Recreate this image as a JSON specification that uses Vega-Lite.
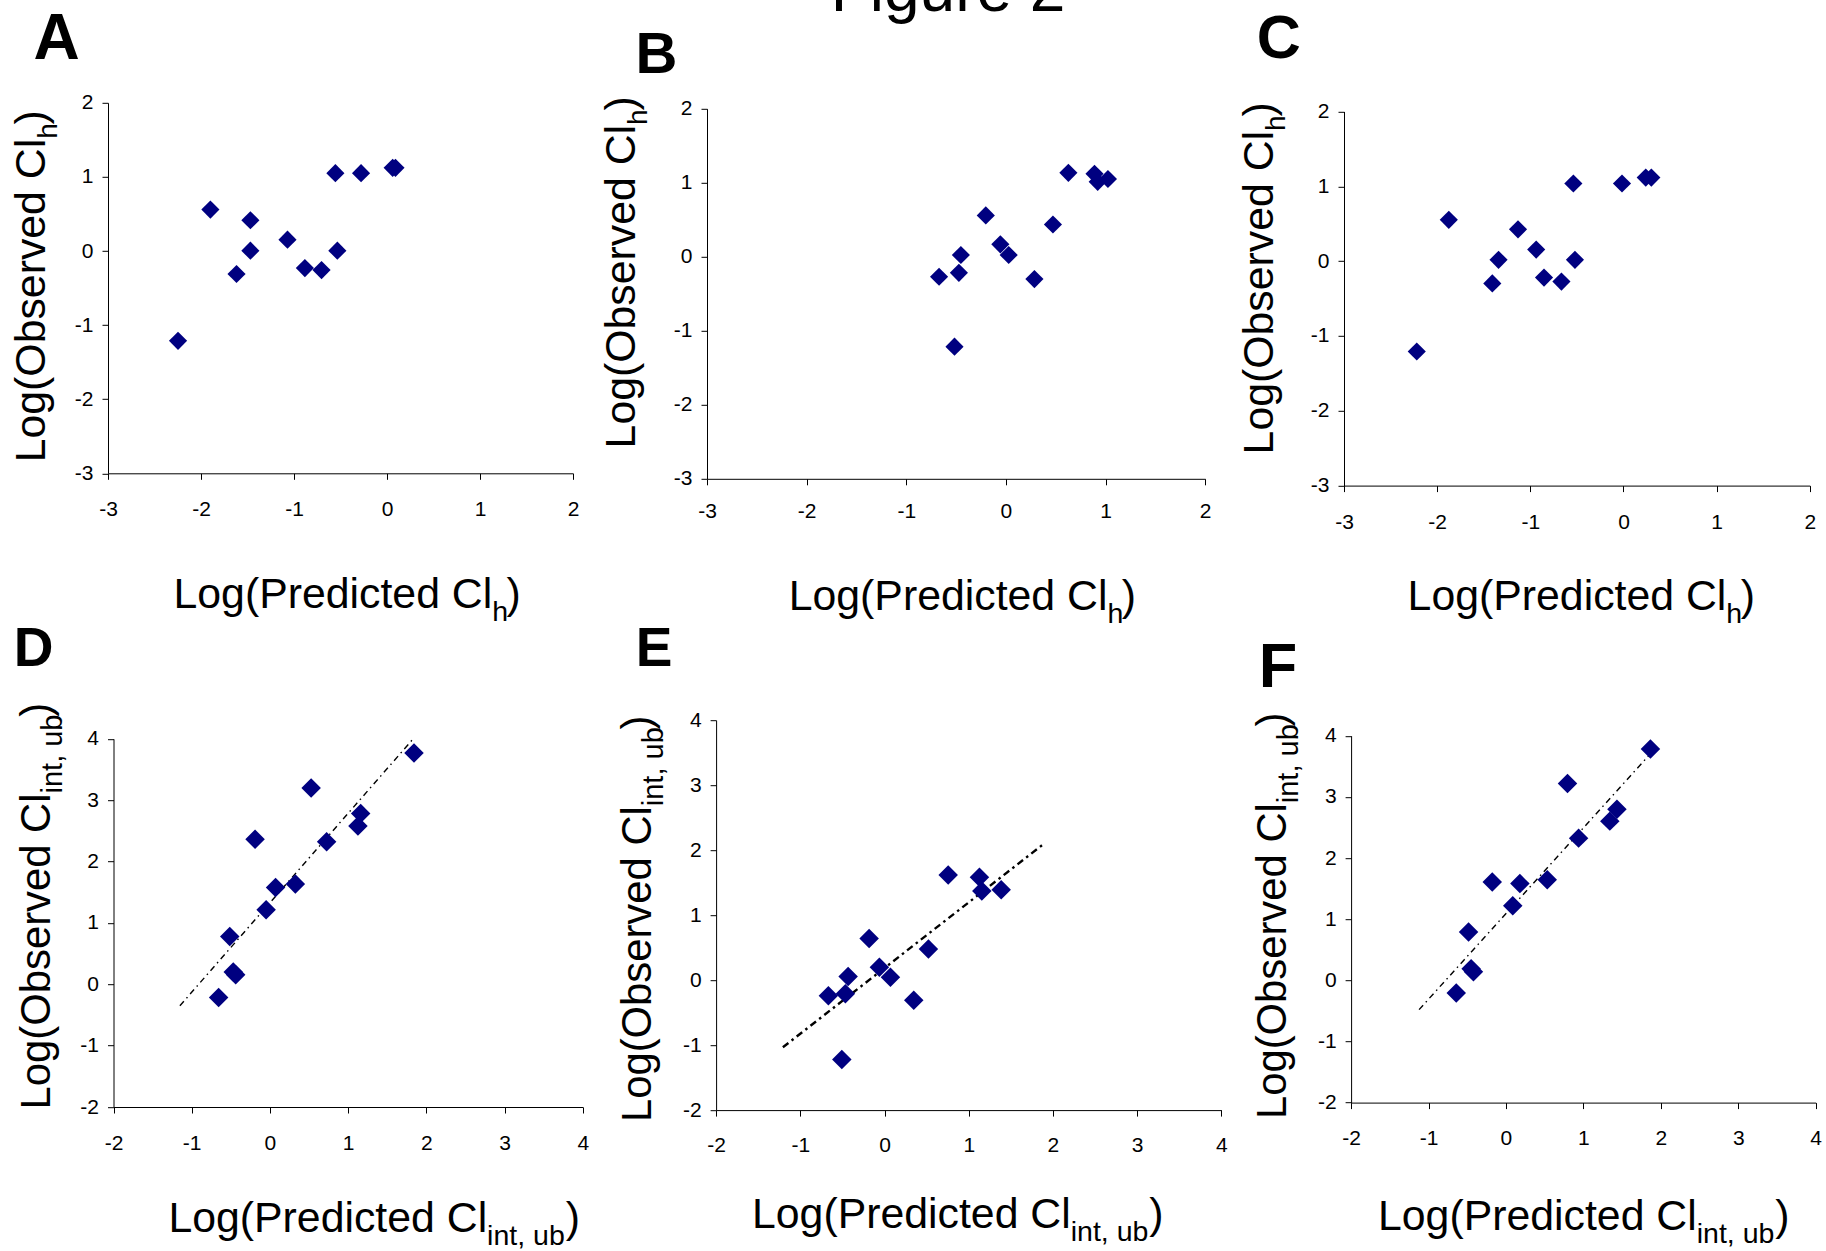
{
  "$schema": "https://vega.github.io/schema/vega-lite/v6.json",
  "autosize": {"type": "none"},
  "padding": {"left": 108, "top": 102.8, "right": 1718, "bottom": 1148.2},
  "background": "white",
  "title": {"text": "Figure 2", "font": "Liberation Sans", "fontSize": 64, "fontWeight": "normal", "color": "black", "anchor": "middle", "frame": "bounds", "baseline": "alphabetic", "offset": 0, "dx": 32, "dy": 67},
  "config": {"view": {"stroke": null}},
  "datasets": {
    "A": [
      {"x": -2.247, "y": -1.212}, {"x": -1.899, "y": 0.559}, {"x": -1.469, "y": 0.415}, {"x": -1.469, "y": 0.004},
      {"x": -1.618, "y": -0.31}, {"x": -1.07, "y": 0.153}, {"x": -0.883, "y": -0.231}, {"x": -0.704, "y": -0.257},
      {"x": -0.555, "y": 1.05}, {"x": -0.534, "y": 0.004}, {"x": -0.279, "y": 1.05}, {"x": 0.061, "y": 1.122}, {"x": 0.091, "y": 1.122}
    ],
    "B": [
      {"x": -0.671, "y": -0.27}, {"x": -0.472, "y": -0.217}, {"x": -0.452, "y": 0.024}, {"x": -0.516, "y": -1.215},
      {"x": -0.202, "y": 0.558}, {"x": -0.056, "y": 0.168}, {"x": 0.028, "y": 0.024}, {"x": 0.286, "y": -0.302},
      {"x": 0.472, "y": 0.435}, {"x": 0.627, "y": 1.134}, {"x": 0.889, "y": 1.12}, {"x": 0.921, "y": 1.012}, {"x": 1.024, "y": 1.05}
    ],
    "C": [
      {"x": -2.219, "y": -1.208}, {"x": -1.875, "y": 0.552}, {"x": -1.408, "y": -0.298}, {"x": -1.341, "y": 0.018},
      {"x": -1.132, "y": 0.425}, {"x": -0.937, "y": 0.155}, {"x": -0.853, "y": -0.22}, {"x": -0.666, "y": -0.273},
      {"x": -0.538, "y": 1.038}, {"x": -0.521, "y": 0.018}, {"x": -0.016, "y": 1.038}, {"x": 0.239, "y": 1.117}, {"x": 0.299, "y": 1.117}
    ],
    "D": [
      {"x": -0.656, "y": -0.215}, {"x": -0.514, "y": 0.778}, {"x": -0.469, "y": 0.199}, {"x": -0.438, "y": 0.154},
      {"x": -0.19, "y": 2.363}, {"x": -0.049, "y": 1.216}, {"x": 0.072, "y": 1.577}, {"x": 0.325, "y": 1.635},
      {"x": 0.527, "y": 3.199}, {"x": 0.725, "y": 2.323}, {"x": 1.125, "y": 2.581}, {"x": 1.16, "y": 2.781}, {"x": 1.842, "y": 3.767}
    ],
    "E": [
      {"x": -0.667, "y": -0.242}, {"x": -0.465, "y": -0.211}, {"x": -0.432, "y": 0.057}, {"x": -0.507, "y": -1.222},
      {"x": -0.183, "y": 0.642}, {"x": -0.061, "y": 0.197}, {"x": 0.07, "y": 0.045}, {"x": 0.347, "y": -0.308},
      {"x": 0.521, "y": 0.478}, {"x": 0.756, "y": 1.616}, {"x": 1.127, "y": 1.585}, {"x": 1.155, "y": 1.372}, {"x": 1.385, "y": 1.39}
    ],
    "F": [
      {"x": -0.642, "y": -0.209}, {"x": -0.483, "y": 0.788}, {"x": -0.45, "y": 0.19}, {"x": -0.42, "y": 0.14},
      {"x": -0.177, "y": 1.607}, {"x": 0.088, "y": 1.219}, {"x": 0.18, "y": 1.581}, {"x": 0.533, "y": 1.646},
      {"x": 0.795, "y": 3.218}, {"x": 0.938, "y": 2.325}, {"x": 1.341, "y": 2.603}, {"x": 1.433, "y": 2.797}, {"x": 1.866, "y": 3.784}
    ],
    "Dline": [{"x": -1.151, "y": -0.35}, {"x": 1.832, "y": 4.0}],
    "Eline": [{"x": -1.207, "y": -1.033}, {"x": 1.883, "y": 2.089}],
    "Fline": [{"x": -1.122, "y": -0.48}, {"x": 1.876, "y": 3.72}]
  },
  "columns": 3,
  "align": "each",
  "bounds": "flush",
  "spacing": {"row": 234.4, "column": 0},
  "concat": [
    {
      "title": {"text": "A", "font": "Liberation Sans", "fontSize": 64, "fontWeight": "bold", "color": "black", "anchor": "start", "frame": "group", "baseline": "alphabetic", "offset": 0, "dx": -74.4, "dy": 30.7},
      "width": 598.8, "height": 370.5,
      "data": {"name": "A"},
      "layer": [
        {
          "mark": {"type": "point", "shape": "diamond", "filled": true, "color": "#000080", "opacity": 1, "size": 330},
          "encoding": {
            "x": {"field": "x", "type": "quantitative", "scale": {"domain": [-3, 2], "range": [0, 465], "nice": false, "zero": false},
              "axis": {"orient": "bottom", "values": [-3, -2, -1, 0, 1, 2], "grid": false, "domainColor": "black", "domainWidth": 1, "tickColor": "black", "tickWidth": 1, "tickSize": 6, "labelFont": "Liberation Sans", "labelFontSize": 21, "labelColor": "black", "labelPadding": 19, "labelFlush": false, "labelOverlap": false, "labelBound": false, "labelExpr": "datum.value < 0 ? '-' + (-datum.value) : '' + datum.value", "title": "Log(Predicted Cl\u2004)", "titleFont": "Liberation Sans", "titleFontSize": 42.8, "titleFontWeight": "normal", "titleColor": "black", "titleAlign": "left", "titleBaseline": "alphabetic", "titleAngle": 0, "titleX": 65, "titleY": 133.7}},
            "y": {"field": "y", "type": "quantitative", "scale": {"domain": [-3, 2], "range": [370.5, 0], "nice": false, "zero": false},
              "axis": {"orient": "left", "offset": 0, "values": [-3, -2, -1, 0, 1, 2], "grid": false, "domainColor": "black", "domainWidth": 1, "tickColor": "black", "tickWidth": 1, "tickSize": 6, "labelFont": "Liberation Sans", "labelFontSize": 21, "labelColor": "black", "labelPadding": 9, "labelFlush": false, "labelOverlap": false, "labelBound": false, "labelExpr": "datum.value < 0 ? '-' + (-datum.value) : '' + datum.value", "title": "Log(Observed Cl\u2004)", "titleFont": "Liberation Sans", "titleFontSize": 42.8, "titleFontWeight": "normal", "titleColor": "black", "titleAlign": "left", "titleBaseline": "alphabetic", "titleAngle": 270, "titleX": -63.5, "titleY": 359}}
          }
        },
        {
          "transform": [{"filter": "false"}],
          "mark": {"type": "point", "opacity": 0},
          "encoding": {
            "x": {"field": "x", "type": "quantitative", "scale": {"domain": [-3, 2], "range": [0, 465], "nice": false, "zero": false},
              "axis": {"orient": "bottom", "domain": false, "ticks": false, "labels": false, "grid": false, "title": "h", "titleFont": "Liberation Sans", "titleFontSize": 28.5, "titleFontWeight": "normal", "titleColor": "black", "titleAlign": "left", "titleBaseline": "alphabetic", "titleAngle": 0, "titleX": 383.7, "titleY": 147.2}},
            "y": {"field": "y", "type": "quantitative", "scale": {"domain": [-3, 2], "range": [370.5, 0], "nice": false, "zero": false},
              "axis": {"orient": "left", "offset": 0, "domain": false, "ticks": false, "labels": false, "grid": false, "title": "h", "titleFont": "Liberation Sans", "titleFontSize": 28, "titleFontWeight": "normal", "titleColor": "black", "titleAlign": "left", "titleBaseline": "alphabetic", "titleAngle": 270, "titleX": -52.0, "titleY": 35.5}}
          }
        }
      ],
      "resolve": {"scale": {"x": "independent", "y": "independent"}, "axis": {"x": "independent", "y": "independent"}}
    },
    {
      "title": {"text": "B", "font": "Liberation Sans", "fontSize": 58, "fontWeight": "bold", "color": "black", "anchor": "start", "frame": "group", "baseline": "alphabetic", "offset": 0, "dx": -71.5, "dy": 35.0},
      "width": 636.8, "height": 376.0,
      "data": {"name": "B"},
      "layer": [
        {
          "mark": {"type": "point", "shape": "diamond", "filled": true, "color": "#000080", "opacity": 1, "size": 330},
          "encoding": {
            "x": {"field": "x", "type": "quantitative", "scale": {"domain": [-3, 2], "range": [0, 498.2], "nice": false, "zero": false},
              "axis": {"orient": "bottom", "values": [-3, -2, -1, 0, 1, 2], "grid": false, "domainColor": "black", "domainWidth": 1, "tickColor": "black", "tickWidth": 1, "tickSize": 6, "labelFont": "Liberation Sans", "labelFontSize": 21, "labelColor": "black", "labelPadding": 16, "labelFlush": false, "labelOverlap": false, "labelBound": false, "labelExpr": "datum.value < 0 ? '-' + (-datum.value) : '' + datum.value", "title": "Log(Predicted Cl\u2004)", "titleFont": "Liberation Sans", "titleFontSize": 42.8, "titleFontWeight": "normal", "titleColor": "black", "titleAlign": "left", "titleBaseline": "alphabetic", "titleAngle": 0, "titleX": 81.2, "titleY": 130.2}},
            "y": {"field": "y", "type": "quantitative", "scale": {"domain": [-3, 2], "range": [376.0, 5.9], "nice": false, "zero": false},
              "axis": {"orient": "left", "offset": 0, "values": [-3, -2, -1, 0, 1, 2], "grid": false, "domainColor": "black", "domainWidth": 1, "tickColor": "black", "tickWidth": 1, "tickSize": 6, "labelFont": "Liberation Sans", "labelFontSize": 21, "labelColor": "black", "labelPadding": 9, "labelFlush": false, "labelOverlap": false, "labelBound": false, "labelExpr": "datum.value < 0 ? '-' + (-datum.value) : '' + datum.value", "title": "Log(Observed Cl\u2004)", "titleFont": "Liberation Sans", "titleFontSize": 42.8, "titleFontWeight": "normal", "titleColor": "black", "titleAlign": "left", "titleBaseline": "alphabetic", "titleAngle": 270, "titleX": -72.1, "titleY": 345.1}}
          }
        },
        {
          "transform": [{"filter": "false"}],
          "mark": {"type": "point", "opacity": 0},
          "encoding": {
            "x": {"field": "x", "type": "quantitative", "scale": {"domain": [-3, 2], "range": [0, 498.2], "nice": false, "zero": false},
              "axis": {"orient": "bottom", "domain": false, "ticks": false, "labels": false, "grid": false, "title": "h", "titleFont": "Liberation Sans", "titleFontSize": 28.5, "titleFontWeight": "normal", "titleColor": "black", "titleAlign": "left", "titleBaseline": "alphabetic", "titleAngle": 0, "titleX": 399.9, "titleY": 143.7}},
            "y": {"field": "y", "type": "quantitative", "scale": {"domain": [-3, 2], "range": [376.0, 5.9], "nice": false, "zero": false},
              "axis": {"orient": "left", "offset": 0, "domain": false, "ticks": false, "labels": false, "grid": false, "title": "h", "titleFont": "Liberation Sans", "titleFontSize": 28, "titleFontWeight": "normal", "titleColor": "black", "titleAlign": "left", "titleBaseline": "alphabetic", "titleAngle": 270, "titleX": -60.6, "titleY": 21.6}}
          }
        }
      ],
      "resolve": {"scale": {"x": "independent", "y": "independent"}, "axis": {"x": "independent", "y": "independent"}}
    },
    {
      "title": {"text": "C", "font": "Liberation Sans", "fontSize": 61, "fontWeight": "bold", "color": "black", "anchor": "start", "frame": "group", "baseline": "alphabetic", "offset": 0, "dx": -87.2, "dy": 18.0},
      "width": 472, "height": 382.8,
      "data": {"name": "C"},
      "layer": [
        {
          "mark": {"type": "point", "shape": "diamond", "filled": true, "color": "#000080", "opacity": 1, "size": 330},
          "encoding": {
            "x": {"field": "x", "type": "quantitative", "scale": {"domain": [-3, 2], "range": [0, 465.8], "nice": false, "zero": false},
              "axis": {"orient": "bottom", "values": [-3, -2, -1, 0, 1, 2], "grid": false, "domainColor": "black", "domainWidth": 1, "tickColor": "black", "tickWidth": 1, "tickSize": 6, "labelFont": "Liberation Sans", "labelFontSize": 21, "labelColor": "black", "labelPadding": 20, "labelFlush": false, "labelOverlap": false, "labelBound": false, "labelExpr": "datum.value < 0 ? '-' + (-datum.value) : '' + datum.value", "title": "Log(Predicted Cl\u2004)", "titleFont": "Liberation Sans", "titleFontSize": 42.8, "titleFontWeight": "normal", "titleColor": "black", "titleAlign": "left", "titleBaseline": "alphabetic", "titleAngle": 0, "titleX": 63.1, "titleY": 123.4}},
            "y": {"field": "y", "type": "quantitative", "scale": {"domain": [-3, 2], "range": [382.8, 8.7], "nice": false, "zero": false},
              "axis": {"orient": "left", "offset": 0, "values": [-3, -2, -1, 0, 1, 2], "grid": false, "domainColor": "black", "domainWidth": 1, "tickColor": "black", "tickWidth": 1, "tickSize": 6, "labelFont": "Liberation Sans", "labelFontSize": 21, "labelColor": "black", "labelPadding": 9, "labelFlush": false, "labelOverlap": false, "labelBound": false, "labelExpr": "datum.value < 0 ? '-' + (-datum.value) : '' + datum.value", "title": "Log(Observed Cl\u2004)", "titleFont": "Liberation Sans", "titleFontSize": 42.8, "titleFontWeight": "normal", "titleColor": "black", "titleAlign": "left", "titleBaseline": "alphabetic", "titleAngle": 270, "titleX": -71.3, "titleY": 351.1}}
          }
        },
        {
          "transform": [{"filter": "false"}],
          "mark": {"type": "point", "opacity": 0},
          "encoding": {
            "x": {"field": "x", "type": "quantitative", "scale": {"domain": [-3, 2], "range": [0, 465.8], "nice": false, "zero": false},
              "axis": {"orient": "bottom", "domain": false, "ticks": false, "labels": false, "grid": false, "title": "h", "titleFont": "Liberation Sans", "titleFontSize": 28.5, "titleFontWeight": "normal", "titleColor": "black", "titleAlign": "left", "titleBaseline": "alphabetic", "titleAngle": 0, "titleX": 381.8, "titleY": 136.9}},
            "y": {"field": "y", "type": "quantitative", "scale": {"domain": [-3, 2], "range": [382.8, 8.7], "nice": false, "zero": false},
              "axis": {"orient": "left", "offset": 0, "domain": false, "ticks": false, "labels": false, "grid": false, "title": "h", "titleFont": "Liberation Sans", "titleFontSize": 28, "titleFontWeight": "normal", "titleColor": "black", "titleAlign": "left", "titleBaseline": "alphabetic", "titleAngle": 270, "titleX": -59.8, "titleY": 27.6}}
          }
        }
      ],
      "resolve": {"scale": {"x": "independent", "y": "independent"}, "axis": {"x": "independent", "y": "independent"}}
    },
    {
      "title": {"text": "D", "font": "Liberation Sans", "fontSize": 55, "fontWeight": "bold", "color": "black", "anchor": "start", "frame": "group", "baseline": "alphabetic", "offset": 0, "dx": -94.2, "dy": 18.9},
      "width": 598.8, "height": 386.8,
      "data": {"name": "D"},
      "layer": [
        {
          "data": {"name": "Dline"},
          "mark": {"type": "line", "color": "black", "strokeWidth": 1.4, "strokeDash": [6, 4, 1.5, 4]},
          "encoding": {
            "x": {"field": "x", "type": "quantitative", "scale": {"domain": [-2, 4], "range": [5.5, 474.8], "nice": false, "zero": false}, "axis": null},
            "y": {"field": "y", "type": "quantitative", "scale": {"domain": [-2, 4], "range": [386.8, 18.6], "nice": false, "zero": false}, "axis": null}
          }
        },
        {
          "mark": {"type": "point", "shape": "diamond", "filled": true, "color": "#000080", "opacity": 1, "size": 380},
          "encoding": {
            "x": {"field": "x", "type": "quantitative", "scale": {"domain": [-2, 4], "range": [5.5, 474.8], "nice": false, "zero": false},
              "axis": {"orient": "bottom", "values": [-2, -1, 0, 1, 2, 3, 4], "grid": false, "domainColor": "black", "domainWidth": 1, "tickColor": "black", "tickWidth": 1, "tickSize": 6, "labelFont": "Liberation Sans", "labelFontSize": 21, "labelColor": "black", "labelPadding": 19, "labelFlush": false, "labelOverlap": false, "labelBound": false, "labelExpr": "datum.value < 0 ? '-' + (-datum.value) : '' + datum.value", "title": "Log(Predicted Cl\u00a0\u00a0\u00a0\u00a0\u00a0\u00a0\u2006)", "titleFont": "Liberation Sans", "titleFontSize": 42.8, "titleFontWeight": "normal", "titleColor": "black", "titleAlign": "left", "titleBaseline": "alphabetic", "titleAngle": 0, "titleX": 59.9, "titleY": 124.0}},
            "y": {"field": "y", "type": "quantitative", "scale": {"domain": [-2, 4], "range": [386.8, 18.6], "nice": false, "zero": false},
              "axis": {"orient": "left", "offset": -5.5, "values": [-2, -1, 0, 1, 2, 3, 4], "grid": false, "domainColor": "black", "domainWidth": 1, "tickColor": "black", "tickWidth": 1, "tickSize": 6, "labelFont": "Liberation Sans", "labelFontSize": 21, "labelColor": "black", "labelPadding": 9, "labelFlush": false, "labelOverlap": false, "labelBound": false, "labelExpr": "datum.value < 0 ? '-' + (-datum.value) : '' + datum.value", "title": "Log(Observed Cl\u00a0\u00a0\u00a0\u00a0\u00a0\u00a0\u2006)", "titleFont": "Liberation Sans", "titleFontSize": 41.8, "titleFontWeight": "normal", "titleColor": "black", "titleAlign": "left", "titleBaseline": "alphabetic", "titleAngle": 270, "titleX": -63.8, "titleY": 388.7}}
          }
        },
        {
          "transform": [{"filter": "false"}],
          "mark": {"type": "point", "opacity": 0},
          "encoding": {
            "x": {"field": "x", "type": "quantitative", "scale": {"domain": [-2, 4], "range": [5.5, 474.8], "nice": false, "zero": false},
              "axis": {"orient": "bottom", "domain": false, "ticks": false, "labels": false, "grid": false, "title": "int, ub", "titleFont": "Liberation Sans", "titleFontSize": 28.5, "titleFontWeight": "normal", "titleColor": "black", "titleAlign": "left", "titleBaseline": "alphabetic", "titleAngle": 0, "titleX": 378.6, "titleY": 137.0}},
            "y": {"field": "y", "type": "quantitative", "scale": {"domain": [-2, 4], "range": [386.8, 18.6], "nice": false, "zero": false},
              "axis": {"orient": "left", "offset": -5.5, "domain": false, "ticks": false, "labels": false, "grid": false, "title": "int, ub", "titleFont": "Liberation Sans", "titleFontSize": 29, "titleFontWeight": "normal", "titleColor": "black", "titleAlign": "left", "titleBaseline": "alphabetic", "titleAngle": 270, "titleX": -51.8, "titleY": 72.8}}
          }
        }
      ],
      "resolve": {"scale": {"x": "independent", "y": "independent"}, "axis": {"x": "independent", "y": "independent"}}
    },
    {
      "title": {"text": "E", "font": "Liberation Sans", "fontSize": 55, "fontWeight": "bold", "color": "black", "anchor": "start", "frame": "group", "baseline": "alphabetic", "offset": 0, "dx": -71.3, "dy": 11.6},
      "width": 636.8, "height": 389.9,
      "data": {"name": "E"},
      "layer": [
        {
          "data": {"name": "Eline"},
          "mark": {"type": "line", "color": "black", "strokeWidth": 2.4, "strokeDash": [7, 4, 2.5, 4]},
          "encoding": {
            "x": {"field": "x", "type": "quantitative", "scale": {"domain": [-2, 4], "range": [9.1, 514.4], "nice": false, "zero": false}, "axis": null},
            "y": {"field": "y", "type": "quantitative", "scale": {"domain": [-2, 4], "range": [389.9, 0], "nice": false, "zero": false}, "axis": null}
          }
        },
        {
          "mark": {"type": "point", "shape": "diamond", "filled": true, "color": "#000080", "opacity": 1, "size": 380},
          "encoding": {
            "x": {"field": "x", "type": "quantitative", "scale": {"domain": [-2, 4], "range": [9.1, 514.4], "nice": false, "zero": false},
              "axis": {"orient": "bottom", "values": [-2, -1, 0, 1, 2, 3, 4], "grid": false, "domainColor": "black", "domainWidth": 1, "tickColor": "black", "tickWidth": 1, "tickSize": 6, "labelFont": "Liberation Sans", "labelFontSize": 21, "labelColor": "black", "labelPadding": 18, "labelFlush": false, "labelOverlap": false, "labelBound": false, "labelExpr": "datum.value < 0 ? '-' + (-datum.value) : '' + datum.value", "title": "Log(Predicted Cl\u00a0\u00a0\u00a0\u00a0\u00a0\u00a0\u2006)", "titleFont": "Liberation Sans", "titleFontSize": 42.8, "titleFontWeight": "normal", "titleColor": "black", "titleAlign": "left", "titleBaseline": "alphabetic", "titleAngle": 0, "titleX": 44.5, "titleY": 117.1}},
            "y": {"field": "y", "type": "quantitative", "scale": {"domain": [-2, 4], "range": [389.9, 0], "nice": false, "zero": false},
              "axis": {"orient": "left", "offset": -9.1, "values": [-2, -1, 0, 1, 2, 3, 4], "grid": false, "domainColor": "black", "domainWidth": 1, "tickColor": "black", "tickWidth": 1, "tickSize": 6, "labelFont": "Liberation Sans", "labelFontSize": 21, "labelColor": "black", "labelPadding": 9, "labelFlush": false, "labelOverlap": false, "labelBound": false, "labelExpr": "datum.value < 0 ? '-' + (-datum.value) : '' + datum.value", "title": "Log(Observed Cl\u00a0\u00a0\u00a0\u00a0\u00a0\u00a0\u2006)", "titleFont": "Liberation Sans", "titleFontSize": 41.8, "titleFontWeight": "normal", "titleColor": "black", "titleAlign": "left", "titleBaseline": "alphabetic", "titleAngle": 270, "titleX": -65.4, "titleY": 401.4}}
          }
        },
        {
          "transform": [{"filter": "false"}],
          "mark": {"type": "point", "opacity": 0},
          "encoding": {
            "x": {"field": "x", "type": "quantitative", "scale": {"domain": [-2, 4], "range": [9.1, 514.4], "nice": false, "zero": false},
              "axis": {"orient": "bottom", "domain": false, "ticks": false, "labels": false, "grid": false, "title": "int, ub", "titleFont": "Liberation Sans", "titleFontSize": 28.5, "titleFontWeight": "normal", "titleColor": "black", "titleAlign": "left", "titleBaseline": "alphabetic", "titleAngle": 0, "titleX": 363.2, "titleY": 130.1}},
            "y": {"field": "y", "type": "quantitative", "scale": {"domain": [-2, 4], "range": [389.9, 0], "nice": false, "zero": false},
              "axis": {"orient": "left", "offset": -9.1, "domain": false, "ticks": false, "labels": false, "grid": false, "title": "int, ub", "titleFont": "Liberation Sans", "titleFontSize": 29, "titleFontWeight": "normal", "titleColor": "black", "titleAlign": "left", "titleBaseline": "alphabetic", "titleAngle": 270, "titleX": -53.4, "titleY": 85.5}}
          }
        }
      ],
      "resolve": {"scale": {"x": "independent", "y": "independent"}, "axis": {"x": "independent", "y": "independent"}}
    },
    {
      "title": {"text": "F", "font": "Liberation Sans", "fontSize": 63, "fontWeight": "bold", "color": "black", "anchor": "start", "frame": "group", "baseline": "alphabetic", "offset": 0, "dx": -85.2, "dy": 37.8},
      "width": 472, "height": 382.4,
      "data": {"name": "F"},
      "layer": [
        {
          "data": {"name": "Fline"},
          "mark": {"type": "line", "color": "black", "strokeWidth": 1.4, "strokeDash": [6, 4, 1.5, 4]},
          "encoding": {
            "x": {"field": "x", "type": "quantitative", "scale": {"domain": [-2, 4], "range": [7.1, 471.7], "nice": false, "zero": false}, "axis": null},
            "y": {"field": "y", "type": "quantitative", "scale": {"domain": [-2, 4], "range": [382.4, 15.5], "nice": false, "zero": false}, "axis": null}
          }
        },
        {
          "mark": {"type": "point", "shape": "diamond", "filled": true, "color": "#000080", "opacity": 1, "size": 380},
          "encoding": {
            "x": {"field": "x", "type": "quantitative", "scale": {"domain": [-2, 4], "range": [7.1, 471.7], "nice": false, "zero": false},
              "axis": {"orient": "bottom", "values": [-2, -1, 0, 1, 2, 3, 4], "grid": false, "domainColor": "black", "domainWidth": 1, "tickColor": "black", "tickWidth": 1, "tickSize": 6, "labelFont": "Liberation Sans", "labelFontSize": 21, "labelColor": "black", "labelPadding": 19, "labelFlush": false, "labelOverlap": false, "labelBound": false, "labelExpr": "datum.value < 0 ? '-' + (-datum.value) : '' + datum.value", "title": "Log(Predicted Cl\u00a0\u00a0\u00a0\u00a0\u00a0\u00a0\u2006)", "titleFont": "Liberation Sans", "titleFontSize": 42.8, "titleFontWeight": "normal", "titleColor": "black", "titleAlign": "left", "titleBaseline": "alphabetic", "titleAngle": 0, "titleX": 33.5, "titleY": 126.6}},
            "y": {"field": "y", "type": "quantitative", "scale": {"domain": [-2, 4], "range": [382.4, 15.5], "nice": false, "zero": false},
              "axis": {"orient": "left", "offset": -7.1, "values": [-2, -1, 0, 1, 2, 3, 4], "grid": false, "domainColor": "black", "domainWidth": 1, "tickColor": "black", "tickWidth": 1, "tickSize": 6, "labelFont": "Liberation Sans", "labelFontSize": 21, "labelColor": "black", "labelPadding": 9, "labelFlush": false, "labelOverlap": false, "labelBound": false, "labelExpr": "datum.value < 0 ? '-' + (-datum.value) : '' + datum.value", "title": "Log(Observed Cl\u00a0\u00a0\u00a0\u00a0\u00a0\u00a0\u2006)", "titleFont": "Liberation Sans", "titleFontSize": 41.8, "titleFontWeight": "normal", "titleColor": "black", "titleAlign": "left", "titleBaseline": "alphabetic", "titleAngle": 270, "titleX": -65.8, "titleY": 398.4}}
          }
        },
        {
          "transform": [{"filter": "false"}],
          "mark": {"type": "point", "opacity": 0},
          "encoding": {
            "x": {"field": "x", "type": "quantitative", "scale": {"domain": [-2, 4], "range": [7.1, 471.7], "nice": false, "zero": false},
              "axis": {"orient": "bottom", "domain": false, "ticks": false, "labels": false, "grid": false, "title": "int, ub", "titleFont": "Liberation Sans", "titleFontSize": 28.5, "titleFontWeight": "normal", "titleColor": "black", "titleAlign": "left", "titleBaseline": "alphabetic", "titleAngle": 0, "titleX": 352.2, "titleY": 139.6}},
            "y": {"field": "y", "type": "quantitative", "scale": {"domain": [-2, 4], "range": [382.4, 15.5], "nice": false, "zero": false},
              "axis": {"orient": "left", "offset": -7.1, "domain": false, "ticks": false, "labels": false, "grid": false, "title": "int, ub", "titleFont": "Liberation Sans", "titleFontSize": 29, "titleFontWeight": "normal", "titleColor": "black", "titleAlign": "left", "titleBaseline": "alphabetic", "titleAngle": 270, "titleX": -53.8, "titleY": 82.5}}
          }
        }
      ],
      "resolve": {"scale": {"x": "independent", "y": "independent"}, "axis": {"x": "independent", "y": "independent"}}
    }
  ]
}
